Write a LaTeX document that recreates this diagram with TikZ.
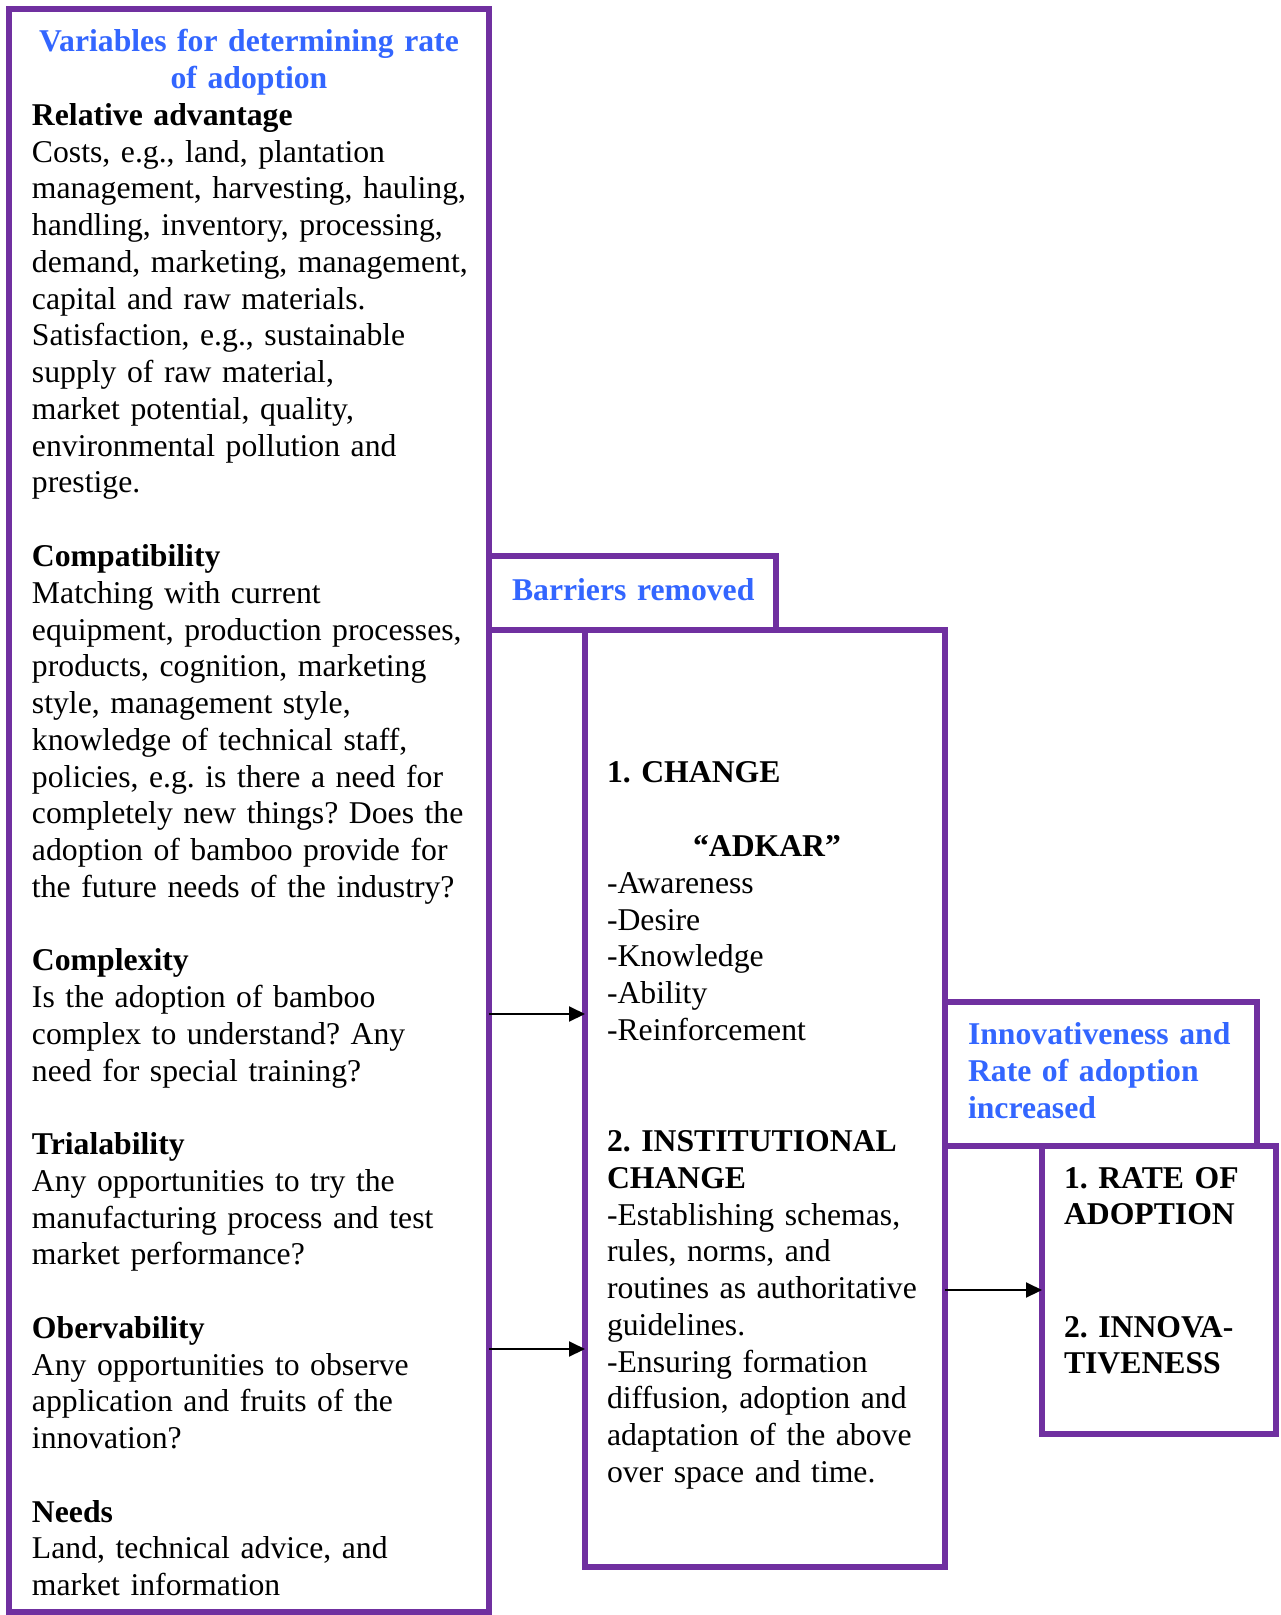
\documentclass[tikz,border=0pt]{standalone}
\usepackage{fontspec}
\setmainfont{Liberation Serif}
\usetikzlibrary{arrows.meta}
\definecolor{framepurple}{RGB}{112,48,160}
\definecolor{headblue}{RGB}{51,102,255}

\tikzset{
  frame/.style={draw=framepurple, line width=3pt, rectangle, inner sep=0pt, outer sep=0pt},
  txt/.style={anchor=base west, inner sep=0pt, outer sep=0pt, text width=230pt, align=left,
              font=\fontsize{15.85}{18.375}\selectfont},
  bluehead/.style={txt, text=headblue, font=\fontsize{15.85}{18.375}\selectfont\bfseries},
  conn/.style={draw=black, line width=1pt, -{Triangle[length=8pt, width=7.5pt]}}
}

\begin{document}
\frenchspacing
\begin{tikzpicture}[x=0.5pt, y=-0.5pt]
  \useasboundingbox (0,0) rectangle (1280,1615);

  % frames
  \node[frame, minimum width=240pt, minimum height=801.5pt] (vars) at (249,810.5) {};
  \node[frame, minimum width=143.5pt, minimum height=37pt] (barriers) at (632.5,593) {};
  \node[frame, minimum width=180pt, minimum height=468.5pt] (change) at (765,1098.5) {};
  \node[frame, minimum width=156pt, minimum height=72pt] (innov) at (1101,1074) {};
  \node[frame, minimum width=117pt, minimum height=144pt] (rate) at (1159,1290) {};

  % left column: variables
  \node[bluehead, anchor=base, align=center, text width=240pt] (varstitle) at (249,52)
    {Variables for determining rate\\of adoption};
  \node[txt] (relative) at (32,125.5)
    {\textbf{Relative advantage}\\
     Costs, e.g., land, plantation\\
     management, harvesting, hauling,\\
     handling, inventory, processing,\\
     demand, marketing, management,\\
     capital and raw materials.\\
     Satisfaction, e.g., sustainable\\
     supply of raw material,\\
     market potential, quality,\\
     environmental pollution and\\
     prestige.};
  \node[txt] (compat) at (32,566.5)
    {\textbf{Compatibility}\\
     Matching with current\\
     equipment, production processes,\\
     products, cognition, marketing\\
     style, management style,\\
     knowledge of technical staff,\\
     policies, e.g. is there a need for\\
     completely new things? Does the\\
     adoption of bamboo provide for\\
     the future needs of the industry?};
  \node[txt] (complex) at (32,970.75)
    {\textbf{Complexity}\\
     Is the adoption of bamboo\\
     complex to understand? Any\\
     need for special training?};
  \node[txt] (trial) at (32,1154.5)
    {\textbf{Trialability}\\
     Any opportunities to try the\\
     manufacturing process and test\\
     market performance?};
  \node[txt] (observ) at (32,1338.25)
    {\textbf{Obervability}\\
     Any opportunities to observe\\
     application and fruits of the\\
     innovation?};
  \node[txt] (needs) at (32,1522)
    {\textbf{Needs}\\
     Land, technical advice, and\\
     market information};

  % headings on the frame edges
  \node[bluehead] (barrierstxt) at (512,600) {Barriers removed};
  \node[bluehead, font=\fontsize{15.85}{18.7}\selectfont\bfseries] (innovtxt) at (968,1044)
    {Innovativeness and\\Rate of adoption\\increased};

  % middle column: change
  \node[txt] (chg) at (607,782.7) {\textbf{1. CHANGE}};
  \node[txt, anchor=base, align=center, text width=170pt] (adkar) at (767,856.7)
    {\textbf{“ADKAR”}};
  \node[txt] (adkarlist) at (607,893.4)
    {-Awareness\\-Desire\\-Knowledge\\-Ability\\-Reinforcement};
  \node[txt] (inst) at (607,1151.5)
    {\textbf{2. INSTITUTIONAL}\\
     \textbf{CHANGE}\\
     -Establishing schemas,\\
     rules, norms, and\\
     routines as authoritative\\
     guidelines.\\
     -Ensuring formation\\
     diffusion, adoption and\\
     adaptation of the above\\
     over space and time.};

  % right column: outcomes
  \node[txt, text width=100pt] (rateadopt) at (1064,1188)
    {\textbf{1. RATE OF}\\\textbf{ADOPTION}};
  \node[txt, text width=100pt] (innovness) at (1064,1337)
    {\textbf{2. INNOVA-}\\\textbf{TIVENESS}};

  % connectors
  \coordinate (a1) at (537,1014);
  \coordinate (a2) at (537,1349);
  \coordinate (a3) at (993,1290);
  \draw[conn] (vars.east |- a1) -- (change.west |- a1);
  \draw[conn] (vars.east |- a2) -- (change.west |- a2);
  \draw[conn] (change.east |- a3) -- (rate.west |- a3);
\end{tikzpicture}
\end{document}
